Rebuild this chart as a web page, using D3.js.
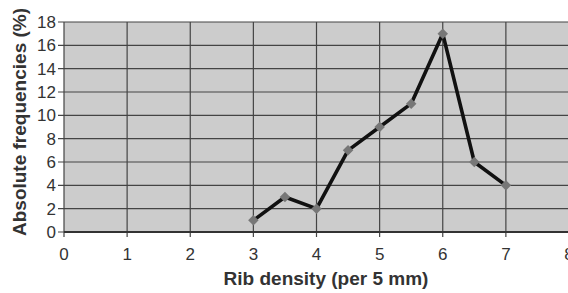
<!DOCTYPE html>
<html>
<head>
<meta charset="utf-8">
<script src="https://cdn.jsdelivr.net/npm/d3@7"></script>
<style>
  body { margin: 0; background: #fff; }
  text { font-family: Arial, "Liberation Sans", sans-serif; fill: #333; }
</style>
</head>
<body>
<svg></svg>
<script>
  // rib density vs. absolute frequency
  var density = [3, 3.5, 4, 4.5, 5, 5.5, 6, 6.5, 7];
  var freq = [1, 3, 2, 7, 9, 11, 17, 6, 4];
  var xTicks = [0, 1, 2, 3, 4, 5, 6, 7, 8];
  var yTicks = [0, 2, 4, 6, 8, 10, 12, 14, 16, 18];

  var width = 568, height = 293;
  var padL = 64, padR = 569, padT = 22, padB = 232;

  var svg = d3.select('svg')
              .attr('width', width)
              .attr('height', height);

  var x = d3.scaleLinear().domain([0, 8]).range([padL, padR]);
  var y = d3.scaleLinear().domain([0, 18]).range([padB, padT]);

  svg.append('rect')
     .attr('x', padL).attr('y', padT)
     .attr('width', padR - padL).attr('height', padB - padT)
     .attr('fill', '#cccccc');

  // grid
  svg.append('g')
     .selectAll('line')
     .data(yTicks)
     .enter().append('line')
       .attr('x1', padL - 6).attr('x2', padR)
       .attr('y1', d => y(d)).attr('y2', d => y(d))
       .attr('stroke', '#444').attr('stroke-width', 1.2);

  svg.append('g')
     .selectAll('line')
     .data(xTicks)
     .enter().append('line')
       .attr('x1', d => x(d)).attr('x2', d => x(d))
       .attr('y1', padT).attr('y2', padB + 5)
       .attr('stroke', '#444').attr('stroke-width', 1.2);

  // bottom axis line a bit heavier
  svg.append('line')
     .attr('x1', padL).attr('x2', padR)
     .attr('y1', padB).attr('y2', padB)
     .attr('stroke', '#333').attr('stroke-width', 2);

  // tick labels
  svg.append('g')
     .selectAll('text')
     .data(yTicks)
     .enter().append('text')
       .attr('x', padL - 8)
       .attr('y', d => y(d) + 6)
       .attr('text-anchor', 'end')
       .style('font-size', '17px')
       .text(d => d);

  svg.append('g')
     .selectAll('text')
     .data(xTicks)
     .enter().append('text')
       .attr('x', d => x(d))
       .attr('y', 260)
       .attr('text-anchor', 'middle')
       .style('font-size', '17px')
       .text(d => d);

  // axis titles
  svg.append('text')
     .attr('x', 326).attr('y', 285)
     .attr('text-anchor', 'middle')
     .style('font-size', '19px').style('font-weight', 'bold')
     .text('Rib density (per 5 mm)');

  svg.append('text')
     .attr('transform', 'translate(26,122) rotate(-90)')
     .attr('text-anchor', 'middle')
     .style('font-size', '19px').style('font-weight', 'bold')
     .text('Absolute frequencies (%)');

  // series
  var pts = density.map((d, i) => [d, freq[i]]);
  var line = d3.line().x(d => x(d[0])).y(d => y(d[1]));

  svg.append('path')
     .datum(pts)
     .attr('d', line)
     .attr('fill', 'none')
     .attr('stroke', '#111')
     .attr('stroke-width', 3.6)
     .attr('stroke-linejoin', 'round');

  svg.append('g')
     .selectAll('path')
     .data(pts)
     .enter().append('path')
       .attr('d', d3.symbol().type(d3.symbolDiamond2).size(70))
       .attr('transform', d => 'translate(' + x(d[0]) + ',' + y(d[1]) + ')')
       .attr('fill', '#777');
</script>
</body>
</html>
